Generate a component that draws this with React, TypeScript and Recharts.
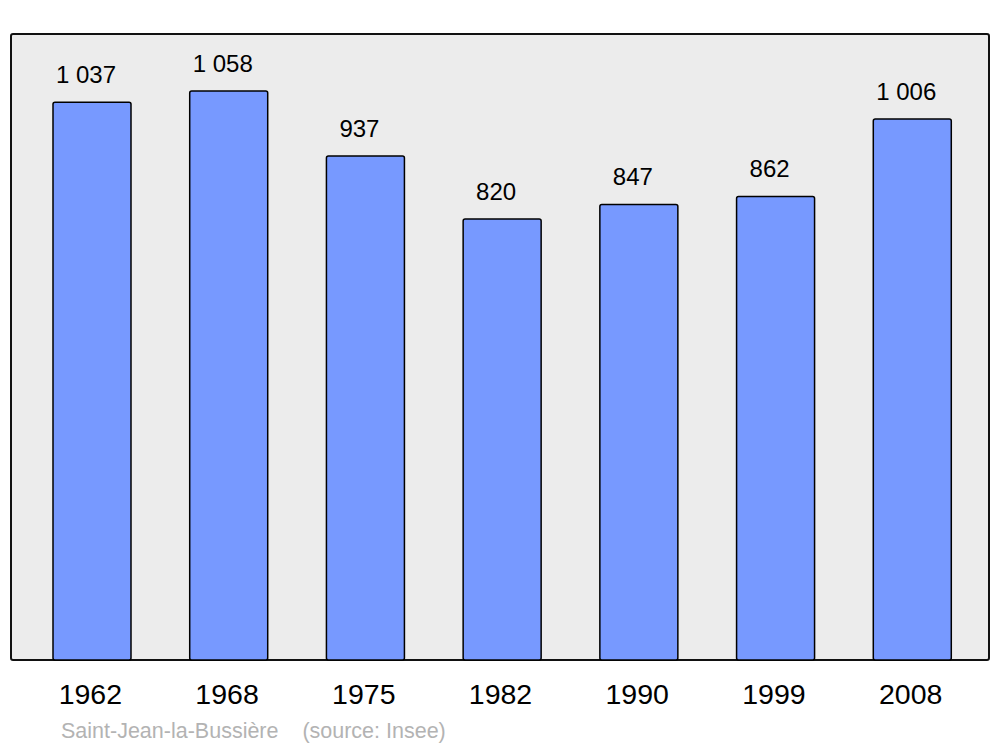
import { Bar, BarChart, LabelList, XAxis, YAxis } from "recharts";

const years = ["1962", "1968", "1975", "1982", "1990", "1999", "2008"];
const population = [1037, 1058, 937, 820, 847, 862, 1006];
const commune = "Saint-Jean-la-Bussière";
const source = "(source: Insee)";

const rows = years.map((year, i) => ({ year, population: population[i] }));

// French-style thousands separator: 1037 -> "1 037"
const fmt = (v: any) => String(v).replace(/\B(?=(\d{3})+(?!\d))/g, " ");

const font = "'Liberation Sans', Arial, sans-serif";

export default function App() {
  return (
    <div style={{ position: "absolute", left: 0, top: 0, width: 1000, height: 747, background: "#fff", fontFamily: font }}>
      <div
        style={{
          position: "absolute",
          left: 10,
          top: 33,
          width: 980,
          height: 628,
          boxSizing: "border-box",
          border: "2.5px solid #111",
          borderRadius: 3,
          background: "#ececec",
        }}
      />
      <div style={{ position: "absolute", left: 0, top: 0 }}>
        <BarChart width={1000} height={747} data={rows} margin={{ top: 34, right: 11, bottom: 0, left: 11 }}>
          <XAxis
            dataKey="year"
            height={87}
            axisLine={false}
            tickLine={false}
            tickMargin={18}
            padding={{ left: 13, right: 8 }}
            tick={{ fontSize: 28.5, fill: "#000", fontFamily: font, dx: -2 }}
          />
          <YAxis hide domain={[0, 1164]} />
          <Bar
            dataKey="population"
            barSize={78}
            fill="#7799ff"
            stroke="#000"
            strokeWidth={1.5}
            radius={2}
            isAnimationActive={false}
          >
            <LabelList
              dataKey="population"
              position="top"
              offset={19}
              formatter={fmt}
              fontSize={24}
              fill="#000"
              fontFamily={font}
              dx={-6}
            />
          </Bar>
        </BarChart>
      </div>
      <div
        style={{
          position: "absolute",
          left: 61,
          top: 719,
          fontSize: 21.5,
          color: "#b3b3b3",
          whiteSpace: "pre",
          lineHeight: "25px",
        }}
      >
        {commune + "    " + source}
      </div>
    </div>
  );
}
